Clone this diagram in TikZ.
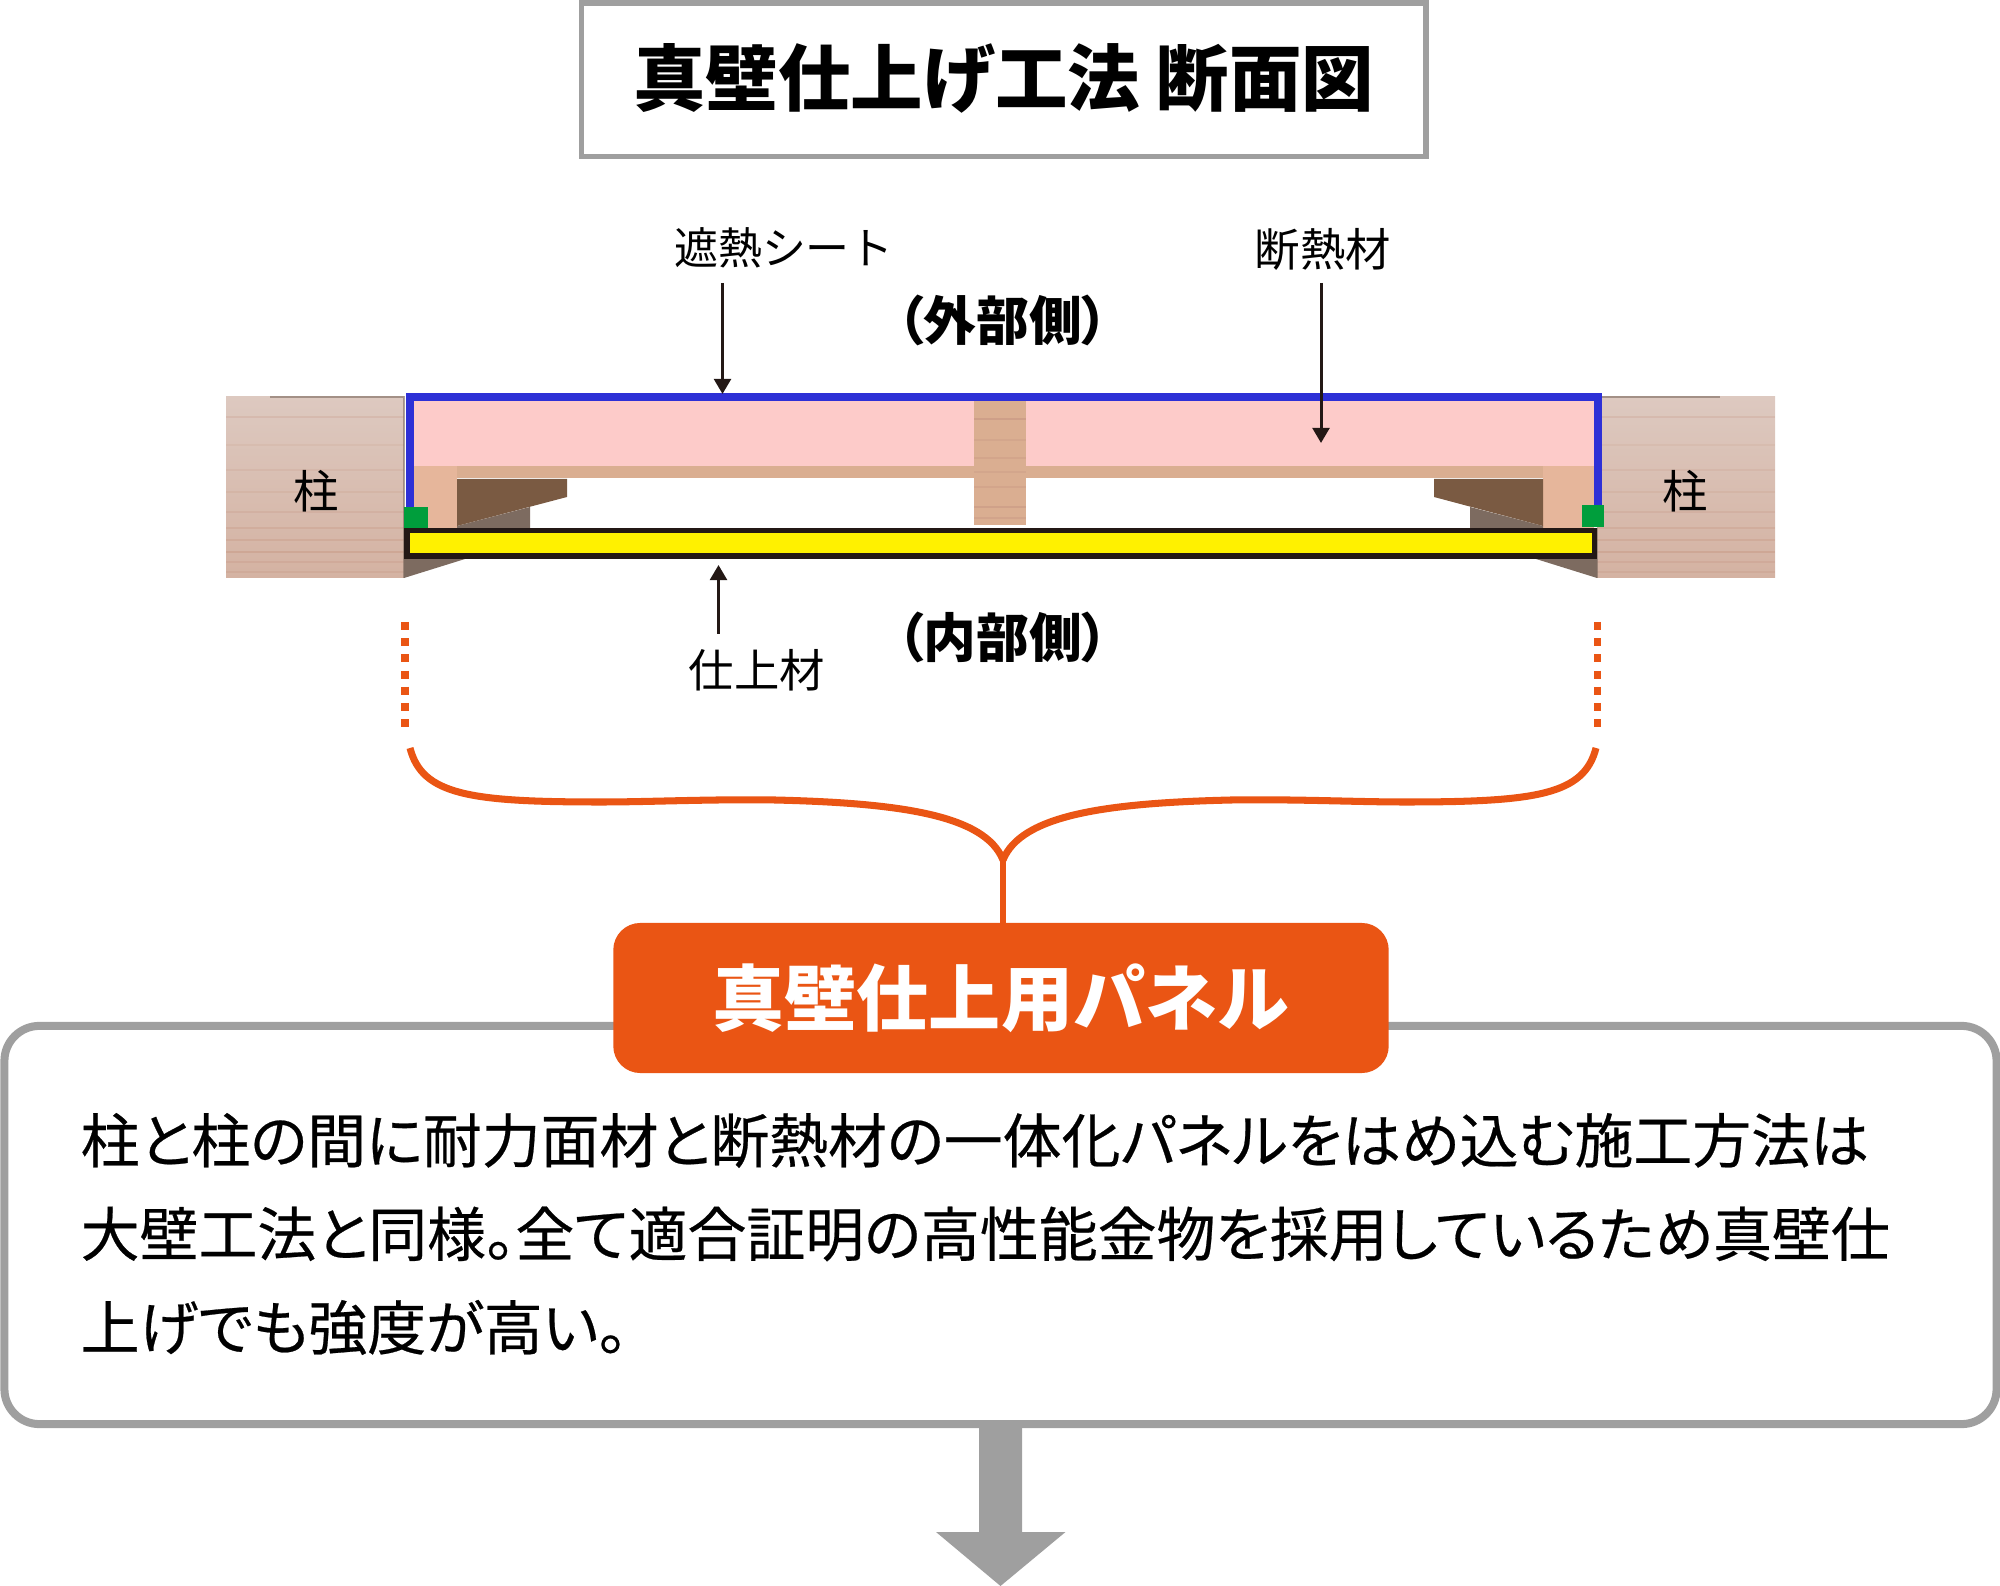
\documentclass[tikz,border=0pt]{standalone}
\usepackage{fontspec}
\setmainfont{Noto Sans CJK JP}
\newfontfamily\bodyfont[FakeBold=0.4,RawFeature=+palt]{Noto Sans CJK JP}
\newfontfamily\sidefont[RawFeature=+palt]{Noto Sans CJK JP}
\usetikzlibrary{arrows.meta,positioning}
\definecolor{frameGray}{RGB}{159,159,159}
\definecolor{panelOrange}{RGB}{234,85,20}
\definecolor{sheetBlue}{RGB}{46,48,214}
\definecolor{insulPink}{RGB}{253,203,201}
\definecolor{finishYellow}{RGB}{255,241,0}
\definecolor{jointGreen}{RGB}{0,158,60}
\definecolor{inkBlack}{RGB}{35,24,21}
\definecolor{woodTop}{RGB}{221,201,192}
\definecolor{woodBot}{RGB}{212,178,162}
\definecolor{woodLine}{RGB}{198,150,130}
\definecolor{studWood}{RGB}{218,174,145}
\definecolor{endWood}{RGB}{230,182,155}
\definecolor{darkWood}{RGB}{122,90,66}
\definecolor{shadeWood}{RGB}{125,107,96}
\tikzstyle{leader} = [line width=0.85pt,-{Stealth[length=4.3pt,width=4.8pt,inset=0pt]},color=inkBlack]
\tikzstyle{braceline} = [line width=2pt,color=panelOrange]
\tikzstyle{dotline} = [line width=2pt,color=panelOrange,dash pattern=on 2.3pt off 2.3pt]
\tikzstyle{partlabel} = [font=\fontsize{12.9}{15}\selectfont,inner sep=0pt]
\tikzstyle{sidelabel} = [font=\sidefont\bfseries\fontsize{15}{18}\selectfont,inner sep=0pt]
\begin{document}
\begin{tikzpicture}[x=0.01cm,y=-0.01cm]
\useasboundingbox (0,0) rectangle (2000,1586);

% Title
\node[draw=frameGray,line width=1.56pt,minimum width=8.44cm,minimum height=1.53cm,inner sep=0pt,
  font=\bfseries\fontsize{20.6}{24}\selectfont] (title) at (1003.75,79.75) {\raisebox{2.7pt}{真壁仕上げ工法 断面図}};

% Posts
\shade[top color=woodTop,bottom color=woodBot] (226,397) rectangle (404,578);
\shade[top color=woodTop,bottom color=woodBot] (1597,397) rectangle (1775,578);
\foreach \y/\o in {417/.25,445/.15,470/.2,492/.2,512/.25,528/.3,540/.35,552/.45,562/.3,572/.3} {
  \draw[woodLine,opacity=\o,line width=0.5pt] (226,\y) -- (404,\y);
  \draw[woodLine,opacity=\o,line width=0.5pt] (1597,\y) -- (1775,\y);
}
\draw[shadeWood,opacity=.6,line width=0.3pt] (270,397) -- (404,397) -- (404,578);
\draw[shadeWood,opacity=.6,line width=0.3pt] (1597,578) -- (1597,528);
\draw[shadeWood,opacity=.6,line width=0.3pt] (1602,397) -- (1720,397);

% Insulation and studs
\fill[insulPink] (413,401) rectangle (1594,466);
\fill[studWood] (413,466) rectangle (1594,478);
\fill[endWood] (413,466) rectangle (457,528);
\fill[endWood] (1543,466) rectangle (1594,528);
\fill[studWood] (974,401) rectangle (1026,525);
\foreach \y/\o in {419/.6,440/.3,458/.35,472/.3,487/.35,507/.5,518/.4} {
  \draw[woodLine,opacity=\o,line width=0.7pt] (974,\y) -- (1026,\y);
}

% Battens
\fill[shadeWood] (457,526) -- (530,507) -- (530,528) -- (457,528) -- cycle;
\fill[darkWood] (457,479) -- (567,479) -- (567,497) -- (457,526) -- cycle;
\fill[shadeWood] (1470,507) -- (1543,526) -- (1543,528) -- (1470,528) -- cycle;
\fill[darkWood] (1434,479) -- (1543,479) -- (1543,526) -- (1434,497) -- cycle;
\fill[shadeWood] (404,559) -- (465,559) -- (404,578) -- cycle;
\fill[shadeWood] (1597,559) -- (1536,559) -- (1597,578) -- cycle;

% Sheet and finish
\draw[sheetBlue,line width=2.28pt] (410,507) -- (410,397) -- (1598,397) -- (1598,505);
\fill[jointGreen] (404,507) rectangle (428,528);
\fill[jointGreen] (1582,505) rectangle (1604,527);
\draw[inkBlack,fill=finishYellow,line width=1.5pt] (407,530.5) rectangle (1594.5,556);

% Labels
\node[partlabel,font=\fontsize{12.5}{15}\selectfont] (sheetlabel) at (784,248) {遮熱シート};
\node[partlabel] (insullabel) at (1323,249) {断熱材};
\node[partlabel] (finishlabel) at (757,670) {仕上材};
\node[partlabel] (postleft) at (316,491) {柱};
\node[partlabel] (postright) at (1685,491) {柱};
\node[sidelabel] (outside) at (1003,320) {（外部側）};
\node[sidelabel] (inside) at (1003,637) {（内部側）};

% Leaders
\coordinate (sheettail) at (722.5,283);
\coordinate (sheettip) at (722.5,394);
\coordinate (insultail) at (1321,283);
\coordinate (insultip) at (1321,443);
\coordinate (finishtail) at (718.5,634);
\coordinate (finishtip) at (718.5,565);
\draw[leader] (sheettail) -- (sheettip);
\draw[leader] (insultail) -- (insultip);
\draw[leader] (finishtail) -- (finishtip);

% Brace
\coordinate (dotleftA) at (405,622);
\coordinate (dotleftB) at (405,728);
\coordinate (dotrightA) at (1597,622);
\coordinate (dotrightB) at (1597,728);
\draw[dotline] (dotleftA) -- (dotleftB);
\draw[dotline] (dotrightA) -- (dotrightB);
\coordinate (braceleft) at (410,748);
\coordinate (braceright) at (1596,748);
\coordinate (bracejoin) at (1003,860);
\draw[braceline] (braceleft) .. controls (422,795) and (470,802) .. (601,802)
  .. controls (650,802) and (710,799) .. (775,800)
  .. controls (900,803) and (985,815) .. (bracejoin);
\draw[braceline] (braceright) .. controls (1584,795) and (1536,802) .. (1405,802)
  .. controls (1356,802) and (1296,799) .. (1231,800)
  .. controls (1106,803) and (1021,815) .. (bracejoin);

% Note panel
\node[draw=frameGray,fill=white,line width=2.28pt,rounded corners=0.35cm,minimum width=19.91cm,minimum height=3.98cm,outer sep=0pt] (notebox) at (1000.5,1225) {};
\node[fill=panelOrange,rounded corners=0.27cm,minimum width=7.75cm,minimum height=1.5cm,inner sep=0pt,outer sep=0pt,text=white,
  font=\bfseries\fontsize{20.5}{24}\selectfont] (panelhead) at (1001,998) {\raisebox{-0.3pt}{真壁仕上用パネル}};
\draw[panelOrange,line width=1.7pt] (bracejoin) -- (panelhead.north -| bracejoin);
\node[anchor=west,align=left,inner sep=0pt,font=\bodyfont\fontsize{16.75}{26.6}\selectfont] (notetext) at (80,1234)
  {柱と柱の間に耐力面材と断熱材の一体化パネルをはめ込む施工方法は\\
   大壁工法と同様。全て適合証明の高性能金物を採用しているため真壁仕\\
   上げでも強度が高い。};

% Down arrow
\fill[frameGray] (979,1424) -- (1022,1424) -- (1022,1532) -- (1065.5,1532) -- (1000.5,1586) -- (936,1532) -- (979,1532) -- cycle;
\end{tikzpicture}
\end{document}
